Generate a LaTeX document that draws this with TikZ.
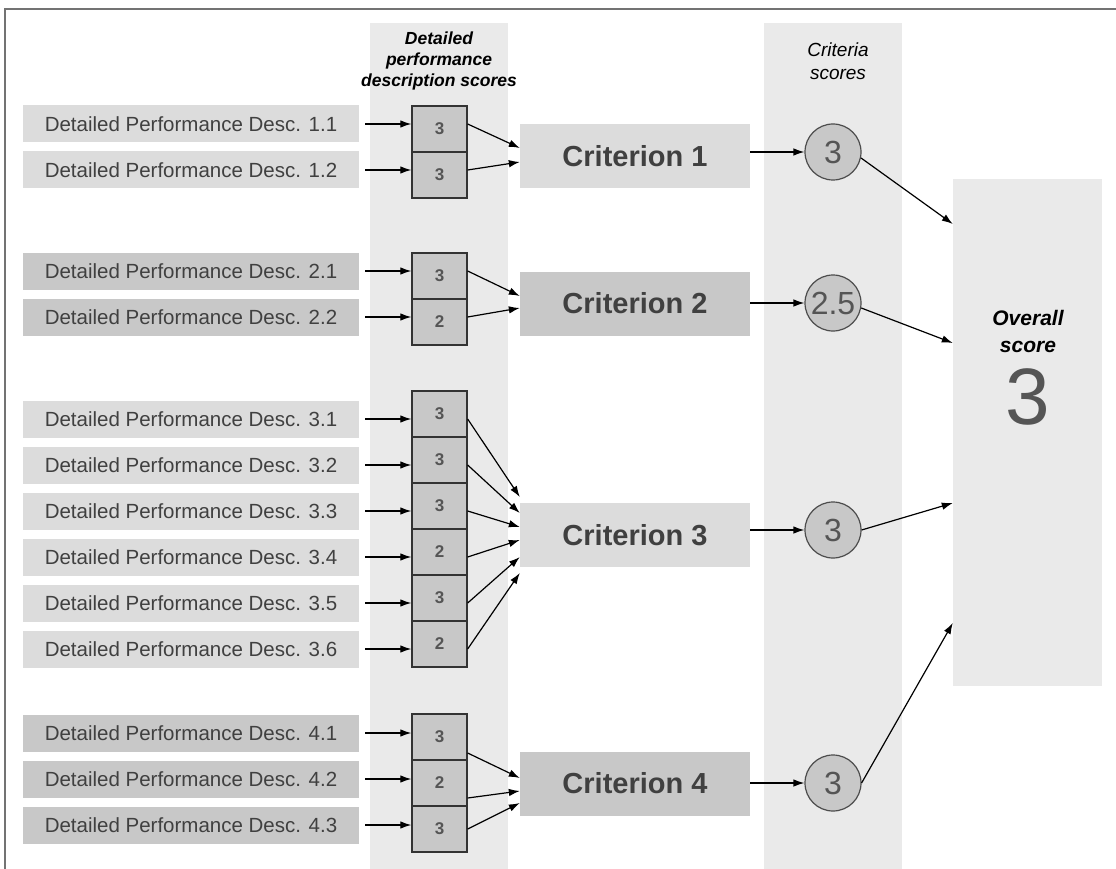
\documentclass[tikz,border=0pt]{standalone}
\usepackage{fontspec}
\setmainfont{Liberation Sans}
\usetikzlibrary{arrows.meta}

\definecolor{colbg}{HTML}{EAEAEA}
\definecolor{boxlight}{HTML}{DCDCDC}
\definecolor{boxdark}{HTML}{C8C8C8}
\definecolor{txtgray}{HTML}{404040}
\definecolor{numgray}{HTML}{555555}

\tikzset{
  desc/.style={fill=boxlight, minimum width=336pt, minimum height=37pt, inner sep=0pt,
    text=txtgray, font=\fontsize{20.5}{24}\selectfont},
  descdark/.style={desc, fill=boxdark},
  scorebox/.style={draw=black!80, fill=boxdark, minimum width=55pt, minimum height=46pt,
    inner sep=0pt, line width=1.3pt, text=numgray, font=\fontsize{17}{20}\selectfont\bfseries},
  crit/.style={fill=boxlight, minimum width=230pt, minimum height=64pt, inner sep=0pt,
    text=txtgray, font=\fontsize{29}{34}\selectfont\bfseries},
  critdark/.style={crit, fill=boxdark},
  circscore/.style={circle, draw=black!70, fill=boxdark, minimum size=56pt, inner sep=0pt,
    line width=1.2pt, text=numgray, font=\fontsize{32}{36}\selectfont},
  arr/.style={-{Latex[length=11pt,width=7.5pt]}, line width=1.2pt},
}

\begin{document}
\begin{tikzpicture}[x=1pt,y=-1pt]
    \useasboundingbox (0,0) rectangle (1116,869);
    % Background columns and frame
    \fill[colbg] (370,23) rectangle (508,869);
    \fill[colbg] (764,23) rectangle (902,869);
    \draw[line width=1.5pt,black!55] (5,869) -- (5,9) -- (1116,9);
    % Column headings
    \node[align=center, font=\fontsize{17.5}{21}\selectfont\bfseries\itshape] (hdrdesc) at (439,61)
      {Detailed\\performance\\description scores};
    \node[align=center, font=\fontsize{19}{23}\selectfont\itshape] (hdrcrit) at (838,61.5)
      {Criteria\\scores};
    % Detailed performance descriptions
    \node[desc] (d11) at (191,124) {Detailed Performance Desc. 1.1};
    \node[desc] (d12) at (191,170) {Detailed Performance Desc. 1.2};
    \node[descdark] (d21) at (191,271) {Detailed Performance Desc. 2.1};
    \node[descdark] (d22) at (191,317) {Detailed Performance Desc. 2.2};
    \foreach \i/\y in {1/419,2/465,3/511,4/557,5/603,6/649}
      \node[desc] (d3\i) at (191,\y) {Detailed Performance Desc. 3.\i};
    \foreach \i/\y in {1/733,2/779,3/825}
      \node[descdark] (d4\i) at (191,\y) {Detailed Performance Desc. 4.\i};
    % Description scores
    \node[scorebox] (s11) at (439.5,129) {3};
    \node[scorebox] (s12) at (439.5,175) {3};
    \node[scorebox] (s21) at (439.5,276) {3};
    \node[scorebox] (s22) at (439.5,322) {2};
    \foreach \i/\y/\v in {1/414/3,2/460/3,3/506/3,4/552/2,5/598/3,6/644/2}
      \node[scorebox] (s3\i) at (439.5,\y) {\v};
    \foreach \i/\y/\v in {1/737/3,2/783/2,3/829/3}
      \node[scorebox] (s4\i) at (439.5,\y) {\v};
    % Criteria
    \node[crit] (c1) at (635,156) {Criterion 1};
    \node[critdark] (c2) at (635,303.5) {Criterion 2};
    \node[crit] (c3) at (635,535) {Criterion 3};
    \node[critdark] (c4) at (635,783.5) {Criterion 4};
    % Criteria scores
    \node[circscore] (k1) at (833,152) {3};
    \node[circscore] (k2) at (833,303) {2.5};
    \node[circscore] (k3) at (833,530) {3};
    \node[circscore] (k4) at (833,783) {3};
    % Overall score
    \node[fill=colbg, minimum width=149pt, minimum height=507pt, inner sep=0pt] (ov) at (1027.5,432.5) {};
    \node[align=center, font=\fontsize{21}{27}\selectfont\bfseries\itshape] (ovlabel) at (1028,331.5)
      {Overall\\score};
    \node[inner sep=0pt, text=numgray, font=\fontsize{80}{80}\selectfont] (ovnum) at (1028,397) {3};
    % Arrows: descriptions to scores
    \foreach \n in {11,12,21,22,31,32,33,34,35,36,41,42,43}
      \draw[arr, shorten <=6pt] (d\n.east) -- (d\n.east -| s\n.west);
    % Arrows: scores to criteria
    \foreach \n/\dy in {11/8,12/-6}
      \draw[arr] (d\n.east -| s\n.east) -- ([yshift=\dy pt]c1.west);
    \foreach \n/\dy in {21/7.5,22/-4.5}
      \draw[arr] (d\n.east -| s\n.east) -- ([yshift=\dy pt]c2.west);
    \foreach \n/\dy in {31/38,32/22,33/8,34/-5,35/-22,36/-38}
      \draw[arr] (d\n.east -| s\n.east) -- ([yshift=\dy pt]c3.west);
    \draw[arr] ([yshift=-16pt]s41.east) -- ([yshift=5.5pt]c4.west);
    \draw[arr] ([yshift=-15pt]s42.east) -- ([yshift=-7.5pt]c4.west);
    \draw[arr] (s43.east) -- ([yshift=-19.5pt]c4.west);
    % Arrows: criteria to criteria scores
    \foreach \j in {1,2,3,4}
      \draw[arr] (c\j.east |- k\j) -- (k\j);
    % Arrows: criteria scores to overall score
    \draw[arr] (k1.-12) -- ([yshift=208.5pt]ov.west);
    \draw[arr] (k2.-10) -- ([yshift=89.5pt]ov.west);
    \draw[arr] (k3.east) -- ([yshift=-70.5pt]ov.west);
    \draw[arr] (k4.east) -- ([yshift=-190.5pt]ov.west);
\end{tikzpicture}
\end{document}
